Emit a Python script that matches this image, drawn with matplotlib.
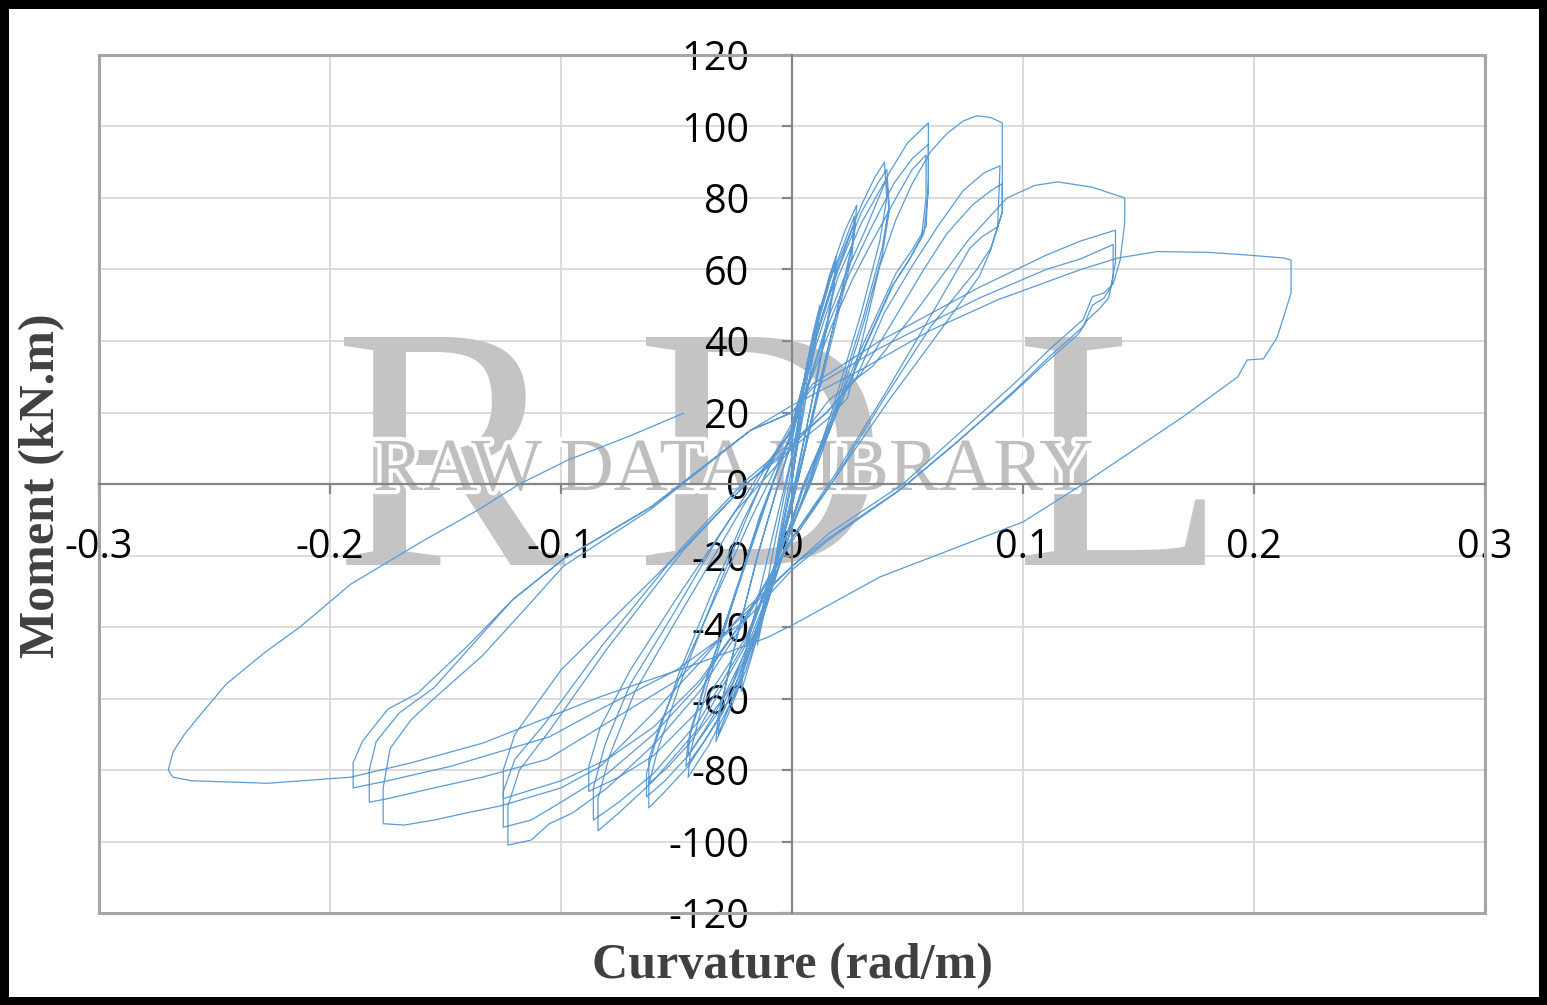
import matplotlib.pyplot as plt
import matplotlib.patheffects as pe
from matplotlib.patches import Rectangle

plt.rcParams['axes.unicode_minus'] = False

# hysteresis path: (curvature rad/m, moment kN.m)
cycle_01 = [(0, 0), (0.002, 12), (0.004, 22), (0.003, 15), (0, 1), (-0.004, -12), (-0.008, -25)]
cycle_02 = [(-0.008, -25), (-0.006, -16), (-0.002, -2), (0.002, 12), (0.005, 26), (0.008, 38), (0.007, 31),
            (0.003, 14), (0, 1), (-0.006, -18), (-0.011, -33), (-0.015, -45)]
cycle_03 = [(-0.015, -45), (-0.013, -36), (-0.008, -18), (-0.003, -2), (0.002, 14), (0.006, 32), (0.009, 42),
            (0.012, 50), (0.011, 43), (0.005, 20), (0, 2), (-0.008, -25), (-0.016, -45), (-0.022, -58)]
cycle_04 = [(-0.022, -58), (-0.021, -50), (-0.014, -30), (-0.006, -8), (0, 8), (0.006, 30), (0.012, 48),
            (0.017, 59), (0.019, 63.5), (0.018, 55), (0.01, 28), (0.003, 5), (0, -4), (-0.01, -32),
            (-0.02, -52), (-0.028, -65), (-0.033, -72)]
cycle_05 = [(-0.033, -72), (-0.032, -65), (-0.025, -46), (-0.015, -20), (-0.006, 0), (0, 12), (0.007, 35),
            (0.013, 51), (0.019, 62), (0.018, 54), (0.011, 30), (0.003, 6), (0, -3), (-0.01, -30),
            (-0.02, -50), (-0.027, -62), (-0.032, -70)]
cycle_06 = [(-0.032, -70), (-0.031, -63), (-0.024, -43), (-0.014, -18), (-0.005, 2), (0, 13), (0.008, 38),
            (0.016, 58), (0.023, 71), (0.028, 78), (0.027, 70), (0.02, 50), (0.012, 28), (0.004, 5),
            (0, -6), (-0.012, -35), (-0.024, -58), (-0.036, -73), (-0.045, -82)]
cycle_07 = [(-0.045, -82), (-0.044, -75), (-0.037, -57), (-0.026, -34), (-0.014, -9), (-0.005, 6), (0, 14),
            (0.009, 40), (0.017, 58), (0.027, 75), (0.026, 66), (0.019, 47), (0.011, 26), (0.004, 6),
            (0, -5), (-0.013, -36), (-0.026, -59), (-0.038, -72), (-0.046, -79)]
cycle_08 = [(-0.046, -79), (-0.045, -72), (-0.037, -55), (-0.025, -31), (-0.013, -8), (-0.004, 8), (0, 15),
            (0.009, 39), (0.018, 57), (0.027, 73), (0.026, 64), (0.019, 45), (0.011, 24), (0.004, 5),
            (0, -6), (-0.013, -35), (-0.026, -56), (-0.038, -69), (-0.045, -76)]
cycle_09 = [(-0.045, -76), (-0.044, -69), (-0.036, -52), (-0.024, -30), (-0.012, -7), (-0.004, 8), (0, 15),
            (0.01, 40), (0.02, 62), (0.03, 78), (0.036, 86), (0.04, 90), (0.041, 80), (0.038, 68),
            (0.03, 48), (0.018, 22), (0.008, 2), (0, -12), (-0.015, -42), (-0.03, -64), (-0.045, -79),
            (-0.055, -86), (-0.062, -90.6)]
cycle_10 = [(-0.062, -90.6), (-0.062, -84), (-0.058, -74), (-0.048, -55), (-0.034, -32), (-0.02, -10),
            (-0.008, 8), (0, 17), (0.01, 40), (0.02, 60), (0.03, 76), (0.037, 84), (0.041, 88), (0.042, 78),
            (0.039, 66), (0.031, 47), (0.019, 22), (0.008, 1), (0, -12), (-0.015, -41), (-0.03, -62),
            (-0.045, -76), (-0.055, -83), (-0.063, -87.5)]
cycle_11 = [(-0.063, -87.5), (-0.063, -81), (-0.059, -72), (-0.049, -53), (-0.035, -31), (-0.021, -10),
            (-0.008, 7), (0, 16), (0.01, 38), (0.02, 58), (0.03, 73), (0.037, 81), (0.041, 85.6), (0.042, 76),
            (0.039, 64), (0.031, 45), (0.019, 20), (0.008, 0), (0, -12), (-0.015, -40), (-0.03, -60),
            (-0.045, -73), (-0.055, -80), (-0.062, -83.7)]
cycle_12 = [(-0.062, -83.7), (-0.062, -77), (-0.057, -67), (-0.046, -50), (-0.032, -30), (-0.018, -10),
            (-0.006, 6), (0, 14), (0.008, 30), (0.016, 47), (0.024, 60), (0.031, 70), (0.042, 87),
            (0.05, 95.4), (0.059, 101), (0.059, 85), (0.058, 72), (0.052, 65.5), (0.045, 59), (0.03, 38),
            (0.015, 15), (0.005, 0), (0, -10), (-0.02, -45), (-0.04, -68), (-0.06, -83), (-0.075, -92),
            (-0.084, -97)]
cycle_13 = [(-0.084, -97), (-0.084, -88), (-0.079, -76), (-0.068, -58), (-0.05, -38), (-0.03, -16),
            (-0.012, 4), (0, 15), (0.008, 30), (0.016, 45), (0.025, 59), (0.033, 70), (0.044, 84),
            (0.052, 91), (0.059, 95), (0.059, 82), (0.057, 70), (0.051, 63), (0.044, 56), (0.03, 36),
            (0.015, 14), (0.005, 0), (0, -10), (-0.02, -44), (-0.04, -66), (-0.06, -81), (-0.075, -89),
            (-0.086, -94)]
cycle_14 = [(-0.086, -94), (-0.086, -85), (-0.081, -73), (-0.07, -56), (-0.052, -37), (-0.032, -15),
            (-0.013, 4), (0, 15), (0.008, 29), (0.017, 44), (0.026, 57), (0.034, 67), (0.045, 80),
            (0.052, 88), (0.058, 92), (0.058, 80), (0.056, 69), (0.05, 62), (0.043, 55), (0.029, 35),
            (0.015, 13), (0.005, -1), (0, -11), (-0.02, -43), (-0.04, -63), (-0.06, -76), (-0.075, -82),
            (-0.088, -86)]
cycle_15 = [(-0.088, -86), (-0.088, -79), (-0.083, -68), (-0.07, -52), (-0.05, -32), (-0.025, -8), (0, 10),
            (0.015, 18), (0.024, 24), (0.031, 42), (0.038, 61), (0.045, 74), (0.052, 84), (0.06, 93),
            (0.067, 98), (0.074, 101.5), (0.08, 103), (0.086, 102.5), (0.091, 101), (0.091, 76),
            (0.086, 65.5), (0.081, 58), (0.062, 41), (0.042, 23.5), (0.018, 1), (0, -15), (-0.02, -38),
            (-0.04, -58), (-0.06, -73), (-0.08, -85), (-0.095, -92), (-0.105, -95), (-0.113, -99.6),
            (-0.123, -101)]
cycle_16 = [(-0.123, -101), (-0.123, -90), (-0.118, -80), (-0.105, -69), (-0.08, -46), (-0.047, -18.5),
            (-0.02, 0), (0, 11), (0.015, 20), (0.028, 30), (0.04, 48), (0.052, 61), (0.063, 72), (0.074, 82),
            (0.083, 87), (0.09, 89), (0.089, 72), (0.082, 69), (0.077, 66), (0.06, 47), (0.04, 25),
            (0.018, 2), (0, -15), (-0.02, -37), (-0.04, -56), (-0.06, -70), (-0.08, -81), (-0.1, -89),
            (-0.113, -94), (-0.125, -96)]
cycle_17 = [(-0.125, -96), (-0.125, -86), (-0.12, -77), (-0.107, -67), (-0.082, -45), (-0.048, -18),
            (-0.02, 1), (0, 12), (0.015, 20), (0.03, 31), (0.045, 47), (0.057, 60), (0.067, 70), (0.078, 78),
            (0.086, 82), (0.091, 84), (0.091, 76), (0.086, 66), (0.08, 60), (0.06, 44), (0.04, 24),
            (0.018, 1), (0, -16), (-0.02, -37), (-0.04, -55), (-0.06, -68), (-0.08, -77), (-0.1, -83),
            (-0.115, -86), (-0.125, -88)]
cycle_18 = [(-0.125, -88), (-0.125, -80), (-0.12, -70), (-0.1, -52), (-0.075, -36), (-0.047, -18), (-0.02, 0),
            (0, 10), (0.016, 23.5), (0.035, 33), (0.055, 49.5), (0.076, 68), (0.093, 80), (0.105, 83.5),
            (0.115, 84.5), (0.13, 83), (0.144, 80), (0.144, 73), (0.142, 62.6), (0.139, 56), (0.135, 53.4),
            (0.13, 52.4), (0.126, 46), (0.112, 38), (0.096, 28), (0.072, 14), (0.048, 0), (0.016, -13.8),
            (0, -23), (-0.02, -35), (-0.04, -50), (-0.06, -64), (-0.083, -79), (-0.1, -85), (-0.126, -90),
            (-0.141, -92), (-0.155, -94), (-0.168, -95.4), (-0.177, -95)]
cycle_19 = [(-0.177, -95), (-0.177, -85), (-0.174, -74), (-0.165, -66), (-0.155, -60), (-0.134, -48),
            (-0.112, -32.4), (-0.099, -23), (-0.061, -7), (-0.018, 15), (0, 20), (0.009, 28), (0.038, 40),
            (0.081, 55), (0.11, 64), (0.125, 68), (0.14, 71), (0.14, 62), (0.138, 55), (0.135, 52),
            (0.13, 50), (0.126, 44), (0.112, 36), (0.096, 26), (0.072, 12), (0.048, -1), (0.016, -15),
            (0, -23), (-0.02, -36), (-0.05, -55), (-0.083, -68), (-0.106, -77), (-0.134, -82),
            (-0.155, -85), (-0.175, -88), (-0.183, -89)]
cycle_20 = [(-0.183, -89), (-0.183, -80), (-0.18, -72), (-0.17, -64), (-0.155, -57), (-0.121, -32.4),
            (-0.099, -21), (-0.061, -6.4), (-0.018, 15), (0, 20), (0.009, 27), (0.038, 38), (0.081, 52),
            (0.11, 60), (0.125, 63), (0.139, 67), (0.139, 58), (0.137, 52), (0.133, 49), (0.128, 46),
            (0.124, 42), (0.11, 34), (0.095, 25), (0.07, 11), (0.046, -2), (0.015, -16), (0, -24),
            (-0.02, -38), (-0.05, -52), (-0.083, -63), (-0.105, -70.7), (-0.148, -79), (-0.175, -83),
            (-0.19, -85)]
cycle_21 = [(-0.19, -85), (-0.19, -78), (-0.186, -72), (-0.175, -63), (-0.162, -58.5), (-0.14, -45),
            (-0.121, -32.4), (-0.099, -21), (-0.061, -6.4), (-0.018, 15), (0, 22), (0.03, 32), (0.06, 43),
            (0.089, 51.5), (0.125, 60), (0.141, 63.2), (0.158, 65), (0.18, 64.8), (0.198, 64), (0.213, 63.2),
            (0.216, 62.6), (0.216, 53.4), (0.21, 41), (0.204, 35), (0.197, 34.7), (0.193, 30),
            (0.169, 18.7), (0.126, 0), (0.1, -10.6), (0.038, -26), (0, -39.5), (-0.011, -43), (-0.04, -50),
            (-0.083, -59.5), (-0.134, -72.5), (-0.165, -78), (-0.191, -82), (-0.227, -83.7), (-0.26, -83),
            (-0.268, -82)]
final_reload = [(-0.268, -82), (-0.27, -80), (-0.268, -75), (-0.263, -70), (-0.258, -66), (-0.245, -56),
                (-0.228, -47), (-0.213, -40), (-0.191, -28), (-0.16, -16), (-0.136, -7.3), (-0.118, 0),
                (-0.097, 6.7), (-0.07, 13.5), (-0.047, 19.8)]

cycles = [cycle_01, cycle_02, cycle_03, cycle_04, cycle_05, cycle_06, cycle_07, cycle_08, cycle_09,
          cycle_10, cycle_11, cycle_12, cycle_13, cycle_14, cycle_15, cycle_16, cycle_17, cycle_18,
          cycle_19, cycle_20, cycle_21, final_reload]

x_ticks = [-0.3, -0.2, -0.1, 0, 0.1, 0.2, 0.3]
x_tick_labels = ['-0.3', '-0.2', '-0.1', '0', '0.1', '0.2', '0.3']
y_ticks = [-120, -100, -80, -60, -40, -20, 0, 20, 40, 60, 80, 100, 120]
y_tick_labels = ['-120', '-100', '-80', '-60', '-40', '-20', '0', '20', '40', '60', '80', '100', '120']

curvature = [p[0] for c in cycles for p in c]
moment = [p[1] for c in cycles for p in c]

fig = plt.figure(figsize=(15.47, 10.05), dpi=100)
fig.patch.set_edgecolor('black')
fig.patch.set_linewidth(12)
ax = fig.add_axes([0.064, 0.0915, 0.896, 0.8538])

# gridlines under the watermark
for xv in x_ticks:
    ax.axvline(xv, color='#d9d9d9', lw=1.3, zorder=0.2)
for yv in y_ticks:
    ax.axhline(yv, color='#d9d9d9', lw=1.3, zorder=0.2)

# watermark
for letter, xpos in [('R', 0.2532), ('D', 0.478), ('L', 0.737)]:
    ax.text(xpos, 0.4056, letter, transform=ax.transAxes, ha='center', va='baseline', fontsize=250,
            family='Liberation Serif', color='#c4c4c4', zorder=0.5)
ax.text(0.4574, 0.493, 'RAW DATA LIBRARY', transform=ax.transAxes, ha='center', va='baseline',
        fontsize=54, family='Liberation Serif', color='#bfbfbf', zorder=0.6,
        path_effects=[pe.withStroke(linewidth=6, foreground='white')])

ax.plot(curvature, moment, color='#5b9bd5', lw=0.9, zorder=3)

ax.set_xlim(-0.3, 0.3)
ax.set_ylim(-120, 120)
ax.set_xticks(x_ticks)
ax.set_xticklabels(x_tick_labels)
ax.set_yticks(y_ticks)
ax.set_yticklabels(y_tick_labels)

for side in ['left', 'bottom']:
    ax.spines[side].set_position(('data', 0))
    ax.spines[side].set_color('#868686')
    ax.spines[side].set_linewidth(1.6)
    ax.spines[side].set_zorder(2.5)
for side in ['top', 'right']:
    ax.spines[side].set_visible(False)
ax.add_patch(Rectangle((0, 0), 1, 1, transform=ax.transAxes, fill=False, edgecolor='#a6a6a6',
                       lw=2.2, zorder=2, clip_on=False))

ax.tick_params(axis='both', direction='out', length=7, width=1.6, color='#868686',
               labelsize=28.5, labelcolor='black')
ax.tick_params(axis='x', pad=24)
ax.tick_params(axis='y', pad=24)
for lab in ax.get_xticklabels() + ax.get_yticklabels():
    lab.set_family('Open Sans')

fig.text(0.5126, 0.0388, 'Curvature (rad/m)', ha='center', va='center', fontsize=36, fontweight='bold',
         family='Liberation Serif', color='#404040')
fig.text(0.027, 0.517, 'Moment (kN.m)', ha='center', va='center', fontsize=36, fontweight='bold',
         family='Liberation Serif', color='#404040', rotation=90)

fig.savefig('out.png', dpi=100)
